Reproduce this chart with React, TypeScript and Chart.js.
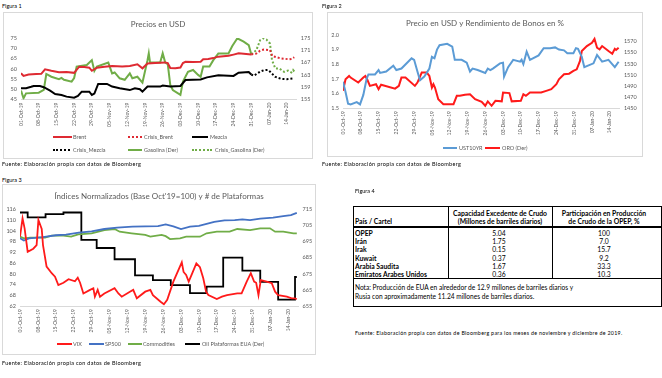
import React, { useEffect, useRef } from "react";
import { Chart, registerables } from "chart.js";
Chart.register(...registerables);

const FONT = "Lato, 'Liberation Sans', sans-serif";
const GREY = "#595959";
Chart.defaults.font.family = FONT;

// ---------- shared x axis ----------
const dateTicks = ["01-Oct-19","08-Oct-19","15-Oct-19","22-Oct-19","29-Oct-19","05-Nov-19","12-Nov-19","19-Nov-19","26-Nov-19","03-Dec-19","10-Dec-19","17-Dec-19","24-Dec-19","31-Dec-19","07-Jan-20","14-Jan-20"];
const dateTickDays = [0,7,14,21,28,35,42,49,56,63,70,77,84,91,98,105];

// ---------- Figura 1 ----------
const brent = [[0,57.8],[1,56.5],[3,57.2],[6,57.4],[8,57.5],[9.5,59.7],[12,59],[15,58.3],[18,58.4],[21,58],[23,61],[25,60.8],[27,60.5],[28,59],[30,60.5],[33,61],[36,61.3],[40,61.1],[43,61.3],[46,62.2],[48,60.2],[50,62.6],[53,62.8],[57,63.1],[58,62.8],[59,60.4],[61,60.2],[63,60.6],[64,62.8],[65,63.4],[68,63.3],[71,63.4],[72,64.6],[74,64.8],[76,65.2],[78,65.9],[80,66.1],[82,66.3],[84,66.9],[86,67.5],[88,67.3],[91,67]];
const crisisBrent = [[91,67],[93,67.4],[94.5,68.8],[96,69.4],[98.4,69.1],[99.3,66.2],[101,65.6],[102.5,65.1],[104,64.9],[106,64.6],[107,64.8],[108,65.6]];
const mezcla = [[0,50.5],[2,50.5],[4,51.2],[5,51.6],[7.5,51.6],[9,51],[11.5,49.3],[13.5,47.7],[16,47.2],[18,46.4],[21,45.9],[22.5,46.7],[24,48.8],[27,48.8],[28,47.2],[29,47.9],[30.5,52.6],[34,52.6],[36,51.3],[39,50.5],[43,49.6],[45,50.5],[47,50],[48,48.8],[50,51.3],[55,51.3],[56,51.8],[59,51.3],[63,51.6],[65,54.5],[71,54.8],[73.5,55.8],[78,56.8],[84,56.5],[86,58.1],[90,58.4],[91,57.2]];
const crisisMezcla = [[91,57.2],[92,56.6],[94.5,58.6],[96,59.3],[97.5,59.4],[98.4,58.6],[100.4,56.1],[103,55],[105,54.9],[107.5,55.3],[108,55.3]];
const gasolina = [[0,157.9],[1,155.4],[2,157],[7,157.2],[9,158.1],[10,163.3],[12,162.4],[15,161.6],[16,162],[17,161.4],[20,160.8],[21,162],[22,165.7],[26,166.2],[28,167.8],[29,164.3],[30,165.7],[34.5,167],[36,163.5],[37,163.8],[39,161.9],[41,161.4],[43,163.5],[44,161.9],[46,162.4],[48,160.5],[50,167.8],[50.5,170],[51,167],[55,167],[56,170],[57,167],[58,166.5],[59,159.7],[60,158.1],[63,156.5],[64,160.8],[66,164],[68,164.6],[70,163],[71,162.4],[72,165.7],[74.5,165.7],[76,167.8],[78,170],[82,170],[83.5,172.4],[85.5,174.9],[88,173.8],[90,172.7],[91,169.7]];
const crisisGasolina = [[91,169.7],[93,171],[94.5,174.3],[95.7,174.9],[97,174.5],[98.4,173.2],[99.2,167.8],[100.5,165.1],[102,165.1],[104,164],[105.5,164.4],[106.8,163.8],[107.5,164.6],[108,164.1]];

// ---------- Figura 2 ----------
const ust10yr = [[0,1.68],[1,1.61],[2,1.53],[3,1.525],[5.4,1.54],[6.7,1.525],[8,1.59],[9.3,1.7],[10,1.73],[12.6,1.73],[14,1.76],[14.6,1.74],[17,1.75],[19.8,1.79],[21,1.76],[23,1.77],[27,1.84],[28,1.83],[29.3,1.75],[30.3,1.69],[32,1.715],[34,1.77],[35,1.85],[36,1.84],[37,1.9],[38,1.93],[41,1.94],[43,1.92],[44,1.83],[46.7,1.83],[48.7,1.81],[50,1.75],[51,1.77],[53,1.76],[56,1.74],[57,1.77],[58,1.76],[59,1.77],[61.8,1.806],[63,1.81],[63.4,1.715],[65,1.78],[67,1.83],[69.7,1.817],[70.3,1.83],[71,1.8],[72.3,1.886],[73.6,1.83],[77,1.86],[79,1.91],[81.5,1.91],[83.5,1.915],[85,1.9],[87,1.895],[88.3,1.875],[90.7,1.875],[91.7,1.91],[92.5,1.905],[94,1.85],[95,1.78],[98.6,1.806],[100,1.863],[102,1.817],[104.5,1.83],[107,1.78],[108.5,1.817]];
const oro = [[0,1481],[1,1502],[2.4,1508],[3,1505],[6,1496],[8,1505],[8.8,1508],[9.5,1502],[10.6,1490],[13,1493],[14,1484],[15,1492],[20.5,1485],[22,1490],[23,1505],[24.6,1505],[28.3,1490],[29.3,1496],[31,1514],[33,1514],[34,1508],[35,1487],[35.6,1493],[36.2,1487],[37.5,1466],[39.5,1457],[43.5,1457],[44.8,1472],[46,1472],[48,1474],[50,1475],[52,1466],[54.6,1461],[56,1454],[57,1462],[58.5,1454],[60,1463],[62.5,1462],[63,1478],[65.5,1477],[66.4,1462],[70,1463],[71,1475],[72,1472],[73.6,1478],[78,1478],[80,1481],[82,1484],[84,1493],[85,1502],[87,1511],[89,1512],[90.7,1517],[92,1520],[93.3,1535],[94,1553],[96,1562],[98,1568],[99,1575],[100,1559],[101,1556],[102,1562],[104.5,1553],[106,1548],[107,1557],[107.5,1555],[108.5,1559]];
const oroTicks = [1450,1470,1490,1510,1530,1550,1570];

// ---------- Figura 3 ----------
const vix = [[0,100.7],[1,111],[1.8,105.4],[3,92.3],[5.2,94],[6.5,96],[7.2,110],[8.5,105],[9,96],[10.4,84],[12.4,80.3],[13.7,78.4],[15,73.7],[17,75],[19,77],[21.5,75.8],[22.6,77.8],[23.5,75],[24.8,69],[27.4,71],[28.7,71.9],[29.3,67.2],[30.4,71],[31.3,67.2],[33,69],[37,71.9],[38.5,69],[39.8,67.2],[43,70],[44.3,71],[45.7,66.3],[49,70],[51,71],[52,68.1],[55,64.4],[56.3,63],[57.6,65.4],[60,75.6],[63.3,86.4],[64,81],[65,79.3],[66,75.6],[67,79],[69,85.8],[70.4,83.7],[71.7,77.5],[72.8,70],[73.7,68.1],[77,65.9],[79,67.2],[81,68.1],[85,69],[86.7,69],[88.7,75.6],[90.3,80.3],[91.6,75.6],[92.4,75],[93.3,68.1],[94.2,76.5],[96.5,75.6],[98.5,74.7],[99.8,70],[101,68],[104.4,67.2],[106.3,66.3],[107.6,66.3],[108.3,65.8]];
const sp500 = [[0,99.8],[1.5,98.6],[3.5,99.8],[9,100.5],[14,101.5],[18,101.8],[23,103],[28,103.7],[33,105],[38,105.8],[44,106.3],[49,106.5],[54,106.6],[57,107.6],[60,106.5],[63,105],[66.5,106.3],[70,106.7],[73,107.8],[76,109],[80,109.8],[84,110],[87,110.4],[90,110],[94,110.8],[99,111.3],[103,112.2],[106,112.7],[108.3,114]];
const commodities = [[0,100.7],[1.5,99.8],[4,100.2],[9.8,100.2],[12.4,101.3],[17,101.3],[20,100.7],[22.8,102],[28,102.6],[33,104.4],[37,105],[39,103.5],[43.7,102.6],[49,101.7],[51,100.7],[55.4,101.7],[57,101],[58.7,99.4],[62.6,99.8],[65,100.7],[70.4,100.7],[73,102.6],[77,103.5],[82,103.5],[85,105],[90,104.4],[94,105.4],[97.8,105.4],[99.8,103.5],[103,103.5],[107,102.6],[108.3,102.6]];
const plataformas = [[0,713],[3,710],[10,712],[17,713],[24,696],[30,691],[37,684],[45,674],[52,671],[59,668],[66.5,663],[73,667],[79.5,685],[87,677],[94,670],[101,659],[107.6,673],[108.3,673]];

// ---------- Figura 4 ----------
const countries = ["OPEP","Irán","Irak","Kuwait","Arabia Saudita","Emiratos Arabes Unidos"];
const spareCapacity = ["5.04","1.75","0.15","0.37","1.67","0.36"];
const opecShare = ["100","7.0","15.7","9.2","33.3","10.3"];

// ---------- colours ----------
const RED1 = "#DE2A32";
const GREEN = "#70AD47";
const BLACK = "#000000";
const BLUE2 = "#5B9BD5";
const RED2 = "#FF1A1A";
const BLUE3 = "#4472C4";

const pts = (a: number[][]) => a.map(([x, y]) => ({ x, y }));

function line(data: number[][], color: string, yAxisID: string, dashed = false, stepped = false) {
  return {
    data: pts(data), borderColor: color, backgroundColor: color, borderWidth: 2,
    pointRadius: 0, tension: 0, yAxisID, fill: false,
    borderDash: dashed ? [2, 2] : [], stepped: stepped ? "before" : false,
  };
}

function xAxis(max: number) {
  return {
    type: "linear", min: 0, max,
    afterBuildTicks: (s: any) => { s.ticks = dateTickDays.map((v) => ({ value: v })); },
    afterFit: (s: any) => { s.height = 30; },
    ticks: {
      autoSkip: false, maxRotation: 90, minRotation: 90, padding: 3,
      font: { size: 5, family: FONT }, color: GREY,
      callback: (_v: any, i: number) => dateTicks[i],
    },
    grid: { display: false, drawTicks: false },
    border: { display: true, color: "#D9D9D9" },
  };
}

function yAxis(pos: string, min: number, max: number, width: number, step: number | null, extra: any = {}) {
  return {
    type: "linear", position: pos, min, max,
    afterFit: (s: any) => { s.width = width; },
    ticks: {
      stepSize: step ?? undefined, font: { size: 5.5, family: FONT }, color: GREY, padding: 4,
      callback: (v: number) => String(v),
      ...(extra.ticks || {}),
    },
    grid: { display: false, drawTicks: false },
    border: { display: false },
    ...(extra.rest || {}),
  };
}

function baseOptions(title: string, padTop: number, padBottom: number, layoutBottom: number, scales: any) {
  return {
    responsive: false, maintainAspectRatio: false, animation: false,
    layout: { padding: { left: 0, right: 0, top: 0, bottom: layoutBottom } },
    plugins: {
      legend: { display: false }, tooltip: { enabled: false },
      title: { display: true, text: title, color: GREY, font: { size: 8, weight: "normal", family: FONT, lineHeight: 1.2 }, padding: { top: padTop, bottom: padBottom } },
    },
    scales,
  };
}

const fig1Config = () => ({
  type: "line",
  data: {
    datasets: [
      line(brent, RED1, "y"),
      line(crisisBrent, RED1, "y", true),
      line(mezcla, BLACK, "y"),
      line(crisisMezcla, BLACK, "y", true),
      line(gasolina, GREEN, "y1"),
      line(crisisGasolina, GREEN, "y1", true),
    ],
  },
  options: baseOptions("Precios en USD", 7.2, 9.2, 29.5, {
    x: xAxis(109),
    y: yAxis("left", 45, 75, 18, 5),
    y1: yAxis("right", 155, 175, 16.2, 4),
  }),
});

const fig2Config = () => ({
  type: "line",
  data: {
    datasets: [
      line(ust10yr, BLUE2, "y"),
      line(oro, RED2, "y1"),
    ],
  },
  options: baseOptions("Precio en USD y Rendimiento de Bonos en %", 6.2, 7.2, 19, {
    x: xAxis(109),
    y: yAxis("left", 1.5, 2.0, 16, 0.1, { ticks: { callback: (v: number) => v.toFixed(1) } }),
    y1: yAxis("right", 1450, 1582, 23.1, null, {
      rest: { afterBuildTicks: (s: any) => { s.ticks = oroTicks.map((v) => ({ value: v })); } },
    }),
  }),
});

const fig3Config = () => ({
  type: "line",
  data: {
    datasets: [
      { ...line(vix, RED2, "y"), borderWidth: 1.8 },
      { ...line(sp500, BLUE3, "y"), borderWidth: 1.8 },
      { ...line(commodities, GREEN, "y"), borderWidth: 1.8 },
      { ...line(plataformas, BLACK, "y1", false, true), borderWidth: 1.8 },
    ],
  },
  options: baseOptions("Índices Normalizados (Base Oct'19=100) y # de Plataformas", 7.9, 7.8, 19, {
    x: xAxis(109),
    y: yAxis("left", 62, 116, 18, 6),
    y1: yAxis("right", 655, 715, 17.4, 10),
  }),
});

function ChartBox({ left, top, width, height, make }: any) {
  const ref = useRef<HTMLCanvasElement>(null);
  useEffect(() => {
    const c = new Chart(ref.current as HTMLCanvasElement, make());
    return () => c.destroy();
  }, []);
  return (
    <>
      <canvas ref={ref} width={width} height={height} style={{ position: "absolute", left, top, width, height }} />
      <div style={{ position: "absolute", left, top, width, height, border: "1px solid #D9D9D9", boxSizing: "border-box", pointerEvents: "none" }} />
    </>
  );
}

function T({ x, y, s = 6, bold = false, center = false, color = "#000", ls = 0, children }: any) {
  const style: any = {
    position: "absolute", top: y - s * 0.6, fontSize: s, lineHeight: s * 1.2 + "px",
    whiteSpace: "nowrap", fontWeight: bold ? 700 : 400, color, letterSpacing: ls, fontFamily: FONT,
  };
  if (center) { style.left = x - 100; style.width = 200; style.textAlign = "center"; }
  else style.left = x;
  return <div style={style}>{children}</div>;
}

function LegendItem({ x, y, w, color, dotted = false, tx, label }: any) {
  return (
    <>
      <div style={{ position: "absolute", left: x, top: y - 1, width: w, height: 0, borderTop: `2px ${dotted ? "dotted" : "solid"} ${color}` }} />
      <T x={tx} y={y} s={5.5} color={GREY}>{label}</T>
    </>
  );
}

function HLine({ x, y, w, t = 1 }: any) {
  return <div style={{ position: "absolute", left: x, top: y, width: w, height: t, background: "#000" }} />;
}
function VLine({ x, y, h }: any) {
  return <div style={{ position: "absolute", left: x, top: y, width: 1, height: h, background: "#000" }} />;
}

const FUENTE = "Fuente: Elaboración propia con datos de Bloomberg";

export default function App() {
  const rowY = [232.7, 241, 249.3, 257.6, 265.9, 274.2];
  return (
    <div style={{ position: "absolute", left: 0, top: 0, width: 662, height: 378, overflow: "hidden", background: "#fff", fontFamily: FONT }}>
      {/* Figura 1 */}
      <T x={2} y={6} s={5.5}>Figura 1</T>
      <ChartBox left={3} top={12} width={310} height={147} make={fig1Config} />
      <LegendItem x={53} y={137} w={19} color={RED1} tx={73} label="Brent" />
      <LegendItem x={128} y={137} w={14} color={RED1} dotted tx={144} label="Crisis_Brent" />
      <LegendItem x={192} y={137} w={16} color={BLACK} tx={210} label="Mezcla" />
      <LegendItem x={53} y={150} w={17} color={BLACK} dotted tx={73} label="Crisis_Mezcla" />
      <LegendItem x={128} y={150} w={14} color={GREEN} tx={144} label="Gasolina (Der)" />
      <LegendItem x={192} y={150} w={20} color={GREEN} dotted tx={215} label="Crisis_Gasolina (Der)" />
      <T x={2} y={164} s={5.5} ls={0.3}>{FUENTE}</T>

      {/* Figura 2 */}
      <T x={322} y={6} s={5.5}>Figura 2</T>
      <ChartBox left={327} top={12} width={316} height={145} make={fig2Config} />
      <LegendItem x={443} y={148} w={14} color={BLUE2} tx={459} label="UST10YR" />
      <LegendItem x={485} y={148} w={15} color={RED2} tx={502} label="ORO (Der)" />
      <T x={322} y={164} s={5.5} ls={0.3}>{FUENTE}</T>

      {/* Figura 3 */}
      <T x={2} y={180} s={5.5}>Figura 3</T>
      <ChartBox left={2} top={184} width={314} height={171} make={fig3Config} />
      <LegendItem x={57} y={344} w={15} color={RED2} tx={73} label="VIX" />
      <LegendItem x={89} y={344} w={15} color={BLUE3} tx={105} label="SP500" />
      <LegendItem x={128} y={344} w={14} color={GREEN} tx={143} label="Commodities" />
      <LegendItem x={185} y={344} w={15} color={BLACK} tx={202} label="Oil Plataformas EUA (Der)" />
      <T x={2} y={363} s={5.5} ls={0.3}>{FUENTE}</T>

      {/* Figura 4 */}
      <T x={355} y={191} s={5.5}>Figura 4</T>
      <div style={{ position: "absolute", left: 353, top: 206, width: 309, height: 101, border: "1px solid #000", boxSizing: "border-box" }} />
      <HLine x={353} y={226} w={309} t={1.5} />
      <HLine x={353} y={278} w={309} />
      <VLine x={448} y={206} h={72} />
      <VLine x={552} y={206} h={72} />
      <T x={355} y={221} s={6.8} bold>País / Cartel</T>
      <T x={500} y={212.7} s={6.8} bold center>Capacidad Excedente de Crudo</T>
      <T x={500} y={221.5} s={6.8} bold center>(Millones de barriles diarios)</T>
      <T x={604} y={212.7} s={6.8} bold center>Participación en Producción</T>
      <T x={604} y={221.5} s={6.8} bold center>de Crudo de la OPEP, %</T>
      {countries.map((c, i) => (
        <React.Fragment key={c}>
          <T x={355} y={rowY[i]} s={6.8} bold>{c}</T>
          <T x={499} y={rowY[i]} s={6.8} center>{spareCapacity[i]}</T>
          <T x={604} y={rowY[i]} s={6.8} center>{opecShare[i]}</T>
        </React.Fragment>
      ))}
      <T x={355} y={287.5} s={6.6}>Nota: Producción de EUA en alrededor de 12.9 millones de barriles diarios y</T>
      <T x={355} y={297} s={6.6}>Rusia con aproximadamente 11.24 millones de barriles diarios.</T>
      <T x={355} y={333.5} s={5.3} ls={0.3}>Fuente: Elaboración propia con datos de Bloomberg para los meses de noviembre y diciembre de 2019.</T>
    </div>
  );
}
